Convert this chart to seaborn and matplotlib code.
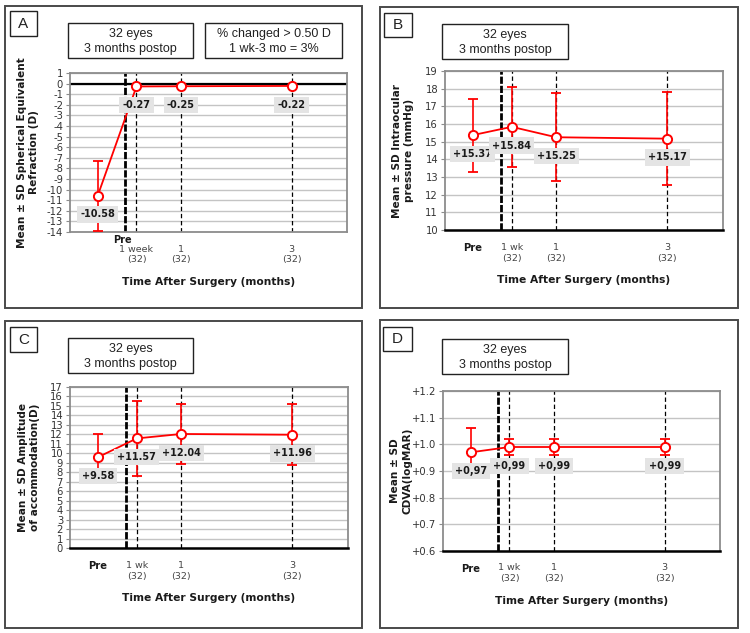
import matplotlib
matplotlib.use("Agg")
import matplotlib.pyplot as plt
from matplotlib.patches import Rectangle
from matplotlib.ticker import FuncFormatter
import numpy as np
import seaborn as sns

# ---------------- data ----------------
time_pos = [-0.5, 0.2, 1, 3]            # Pre, 1 wk, 1 mo, 3 mo (months)
time_top_A = ["1 week", "1", "3"]
time_top = ["1 wk", "1", "3"]
time_n = ["(32)", "(32)", "(32)"]

se_mean = [-10.58, -0.27, -0.25, -0.22]
se_sd = [3.28, 0.0, 0.0, 0.0]
se_text = ["-10.58", "-0.27", "-0.25", "-0.22"]

iop_mean = [15.37, 15.84, 15.25, 15.17]
iop_sd = [2.07, 2.28, 2.50, 2.62]
iop_text = ["+15.37", "+15.84", "+15.25", "+15.17"]

amp_mean = [9.58, 11.57, 12.04, 11.96]
amp_sd = [2.47, 3.98, 3.15, 3.22]
amp_text = ["+9.58", "+11.57", "+12.04", "+11.96"]

cdva_mean = [0.97, 0.99, 0.99, 0.99]
cdva_sd = [0.09, 0.03, 0.03, 0.03]
cdva_text = ["+0,97", "+0,99", "+0,99", "+0,99"]

# ---------------- style ----------------
sns.set_style("white")
plt.rcParams["font.family"] = ["DejaVu Sans"]
plt.rcParams["axes.unicode_minus"] = False

W, H = 750, 633
fig = plt.figure(figsize=(W / 100, H / 100), dpi=100)
fig.patch.set_facecolor("white")

RED = "#FF0000"
GRID = "#C4C4C4"
FRAME = "#8C8C8C"


def rect_px(l, t, r, b, **kw):
    fig.add_artist(Rectangle((l / W, 1 - b / H), (r - l) / W, (b - t) / H,
                             transform=fig.transFigure, **kw))


def text_px(x, y, s, **kw):
    fig.text(x / W, 1 - y / H, s, **kw)


panels = [
    dict(letter="A", box=(5, 6, 362, 308), lbox=(10, 11, 37, 36),
         tboxes=[((68, 23, 193, 58), "32 eyes\n3 months postop"),
                 ((205, 23, 342, 58), "% changed > 0.50 D\n1 wk-3 mo = 3%")],
         ax=(70, 73, 347, 232), ylim=(-14, 1), ystep=1,
         mean=se_mean, sd=se_sd, text=se_text,
         ylabel="Mean \u00b1 SD Spherical Equivalent\nRefraction (D)", ylx=28,
         fmt=None),
    dict(letter="B", box=(380, 7, 738, 308), lbox=(384, 13, 412, 37),
         tboxes=[((442, 24, 568, 59), "32 eyes\n3 months postop")],
         ax=(445, 71, 723, 230), ylim=(10, 19), ystep=1,
         mean=iop_mean, sd=iop_sd, text=iop_text,
         ylabel="Mean \u00b1 SD Intraocular\npressure (mmHg)", ylx=403,
         fmt=None),
    dict(letter="C", box=(5, 321, 362, 628), lbox=(10, 327, 37, 352),
         tboxes=[((68, 338, 193, 373), "32 eyes\n3 months postop")],
         ax=(70, 387, 348, 548), ylim=(0, 17), ystep=1,
         mean=amp_mean, sd=amp_sd, text=amp_text,
         ylabel="Mean \u00b1 SD Amplitude\nof accommodation(D)", ylx=29,
         fmt=None),
    dict(letter="D", box=(380, 320, 738, 628), lbox=(383, 327, 412, 351),
         tboxes=[((442, 339, 568, 374), "32 eyes\n3 months postop")],
         ax=(443, 391, 720, 551), ylim=(0.6, 1.2), ystep=0.1,
         mean=cdva_mean, sd=cdva_sd, text=cdva_text,
         ylabel="Mean \u00b1 SD\nCDVA(logMAR)", ylx=401,
         fmt=lambda v, p: f"+{v:.1f}"),
]

for P in panels:
    # outer panel frame and boxes
    l, t, r, b = P["box"]
    rect_px(l, t, r, b, fill=False, ec="#4A4A4A", lw=1.4)
    l, t, r, b = P["lbox"]
    rect_px(l, t, r, b, fill=False, ec="#222222", lw=1.0)
    text_px((l + r) / 2, (t + b) / 2, P["letter"], ha="center", va="center",
            fontsize=11, family=["Liberation Sans"], color="#222222")
    for (l, t, r, b), s in P["tboxes"]:
        rect_px(l, t, r, b, fill=False, ec="#222222", lw=1.0)
        text_px((l + r) / 2, (t + b) / 2 + 1, s, ha="center", va="center",
                fontsize=9, family=["Liberation Sans"], color="#222222",
                linespacing=1.25)

    al, at, ar, ab = P["ax"]
    ax_h = ab - at
    ax = fig.add_axes([al / W, 1 - ab / H, (ar - al) / W, ax_h / H])
    ax.set_xlim(-1, 4)
    y0, y1 = P["ylim"]
    ax.set_ylim(y0, y1)
    ticks = np.arange(y0, y1 + P["ystep"] / 2, P["ystep"])
    ax.set_yticks(ticks)
    if P["fmt"] is not None:
        ax.yaxis.set_major_formatter(FuncFormatter(P["fmt"]))
    else:
        ax.yaxis.set_major_formatter(FuncFormatter(lambda v, p: f"{v:.0f}"))
    ax.set_xticks([])
    ax.tick_params(axis="y", length=3, width=0.8, color=FRAME, labelsize=7.2,
                   labelcolor="#333333", pad=2, left=True)
    ax.grid(axis="y", color=GRID, lw=1.0)
    ax.set_axisbelow(True)
    for side in ["left", "top", "right"]:
        ax.spines[side].set_color(FRAME)
        ax.spines[side].set_linewidth(1.3)
    if P["letter"] == "A":
        ax.spines["bottom"].set_color(FRAME)
        ax.spines["bottom"].set_linewidth(1.3)
        ax.axhline(0, color="black", lw=1.6, zorder=2)
    else:
        ax.spines["bottom"].set_color("black")
        ax.spines["bottom"].set_linewidth(1.8)

    # vertical reference lines
    ax.axvline(0, color="black", lw=2.0, dashes=(2.6, 0.7), zorder=2)
    for xv in time_pos[1:]:
        ax.axvline(xv, color="black", lw=0.9, dashes=(3.5, 2.2), zorder=2)

    # error bars and line
    xs_e = [x for x, s in zip(time_pos, P["sd"]) if s > 0]
    ys_e = [m for m, s in zip(P["mean"], P["sd"]) if s > 0]
    sd_e = [s for s in P["sd"] if s > 0]
    ax.errorbar(xs_e, ys_e, yerr=sd_e, fmt="none", ecolor=RED, elinewidth=1.2,
                capsize=3.5, capthick=1.3, zorder=4, clip_on=False)
    sns.lineplot(x=time_pos, y=P["mean"], ax=ax, color=RED, lw=1.3,
                 marker="o", markersize=6.6, markerfacecolor="white",
                 markeredgecolor=RED, markeredgewidth=1.4, zorder=5,
                 clip_on=False)

    # value labels
    for x, m, s in zip(time_pos, P["mean"], P["text"]):
        ax.annotate(s, (x, m), xytext=(0, -13.5), textcoords="offset points",
                    ha="center", va="center", fontsize=7, fontweight="bold",
                    color="#1A1A1A", zorder=6,
                    bbox=dict(boxstyle="square,pad=0.32", fc="#E4E4E4",
                              ec="none"))

    # x category labels
    xt = ax.get_xaxis_transform()
    if P["letter"] == "A":
        ax.text(-0.05, -8.5 / ax_h, "Pre", transform=xt, ha="center",
                va="center", fontsize=7, fontweight="bold", color="#1A1A1A")
        tops = time_top_A
        dy1, dy2 = 18, 28
    else:
        ax.text(time_pos[0], -18 / ax_h, "Pre", transform=xt, ha="center",
                va="center", fontsize=7.2, fontweight="bold", color="#1A1A1A")
        tops = time_top
        dy1, dy2 = 17, 28
    for x, a, n in zip(time_pos[1:], tops, time_n):
        ax.text(x, -dy1 / ax_h, a, transform=xt, ha="center", va="center",
                fontsize=6.8, color="#444444")
        ax.text(x, -dy2 / ax_h, n, transform=xt, ha="center", va="center",
                fontsize=6.8, color="#444444")
    ax.text(0.5, -50 / ax_h, "Time After Surgery (months)", transform=ax.transAxes,
            ha="center", va="center", fontsize=7.7, fontweight="bold",
            color="#1A1A1A")
    ax.set_xlabel("")
    ax.set_ylabel("")
    text_px(P["ylx"], (at + ab) / 2, P["ylabel"], rotation=90, ha="center",
            va="center", fontsize=7.6, fontweight="bold", color="#1A1A1A",
            linespacing=1.3)

fig.savefig("out.png", dpi=100, facecolor="white")
